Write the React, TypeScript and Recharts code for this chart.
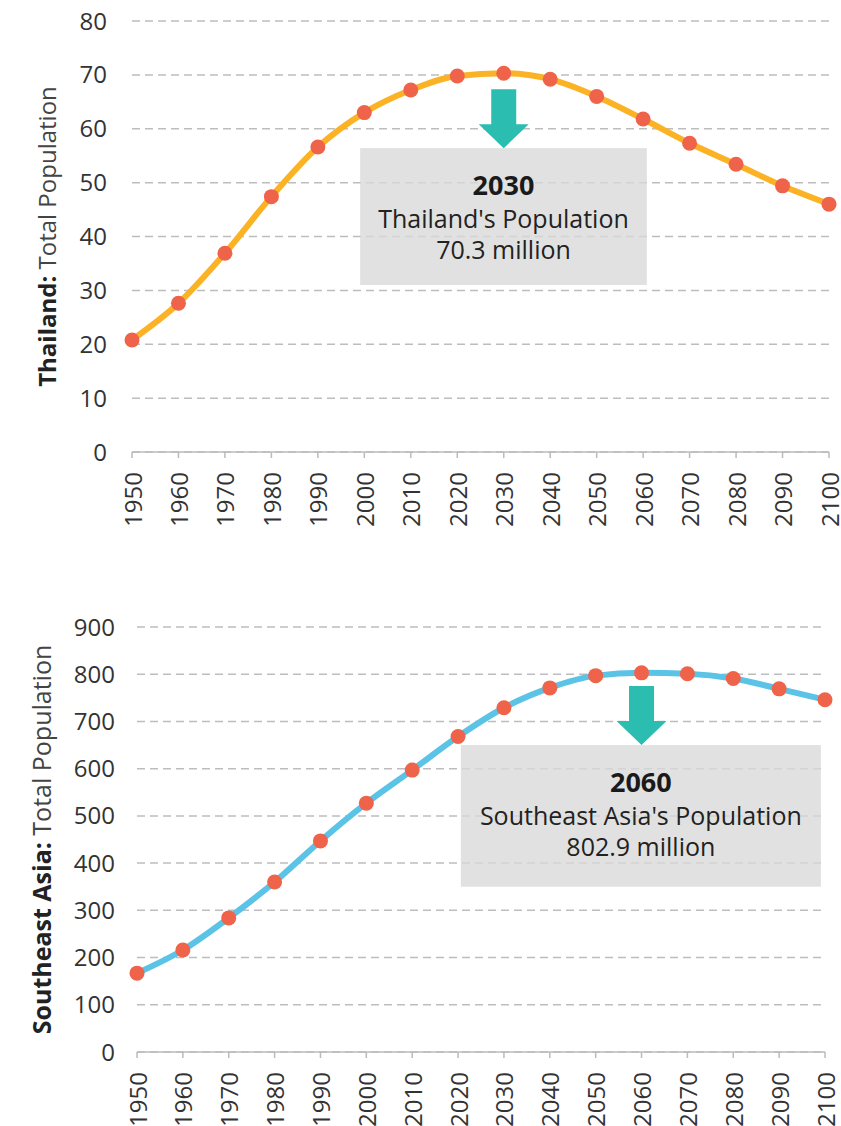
import React from 'react';
import { LineChart, Line, XAxis, YAxis, CartesianGrid, ReferenceArea, ReferenceDot } from 'recharts';

const years = [1950, 1960, 1970, 1980, 1990, 2000, 2010, 2020, 2030, 2040, 2050, 2060, 2070, 2080, 2090, 2100];
const thailand = [20.8, 27.6, 36.9, 47.4, 56.6, 63.0, 67.2, 69.8, 70.3, 69.2, 66.0, 61.8, 57.3, 53.4, 49.4, 46.0];
const seAsia = [167, 216, 284, 360, 447, 527, 597, 668, 729, 771, 797, 802.9, 801, 791, 769, 746];
const thaiTicks = [0, 10, 20, 30, 40, 50, 60, 70, 80];
const seaTicks = [0, 100, 200, 300, 400, 500, 600, 700, 800, 900];

const thaiData = years.map((y, i) => ({ year: y, value: thailand[i] }));
const seaData = years.map((y, i) => ({ year: y, value: seAsia[i] }));

const FONT = "'Open Sans', sans-serif";
const TEAL = '#2bbdb0';
const DOT = '#ef634a';

const XTick = (props: any) => {
  const { x, y, payload } = props;
  const ty = y + 12;
  return (
    <text
      x={x}
      y={ty}
      transform={`rotate(-90 ${x} ${ty})`}
      textAnchor="end"
      dominantBaseline="central"
      fontFamily={FONT}
      fontSize={24}
      fill="#333"
    >
      {payload.value}
    </text>
  );
};

const makeTitle = (bold: string, rest: string, cx: number, size: number) => (props: any) => {
  const vb = props.viewBox;
  const cy = vb.y + vb.height / 2;
  return (
    <text
      x={cx}
      y={cy}
      transform={`rotate(-90 ${cx} ${cy})`}
      textAnchor="middle"
      dominantBaseline="central"
      fontFamily={FONT}
      fontSize={size}
      fill="#222"
    >
      <tspan fontWeight="bold">{bold}</tspan>
      <tspan fill="#444">{rest}</tspan>
    </text>
  );
};

const Arrow = (props: any) => {
  const { cx, cy } = props;
  const pts = [
    [cx - 12.5, cy - 59],
    [cx + 12.5, cy - 59],
    [cx + 12.5, cy - 24],
    [cx + 25, cy - 24],
    [cx, cy],
    [cx - 25, cy - 24],
    [cx - 12.5, cy - 24],
  ]
    .map((p) => p.join(','))
    .join(' ');
  return <polygon points={pts} fill={TEAL} />;
};

const makeBox = (l1: string, l2: string, l3: string) => (props: any) => {
  const { x, y, width, height } = props;
  const mx = x + width / 2;
  return (
    <g>
      <rect x={x} y={y} width={width} height={height} fill="#d8d8d8" fillOpacity={0.78} />
      <text x={mx} y={y + 47} textAnchor="middle" fontFamily={FONT} fontSize={27} fontWeight="bold" fill="#1a1a1a">
        {l1}
      </text>
      <text x={mx} y={y + 80} textAnchor="middle" fontFamily={FONT} fontSize={25} fill="#222">
        {l2}
      </text>
      <text x={mx} y={y + 111} textAnchor="middle" fontFamily={FONT} fontSize={25} fill="#222">
        {l3}
      </text>
    </g>
  );
};

export default function App() {
  return (
    <div style={{ position: 'absolute', left: 0, top: 0, width: 841, height: 1126, background: '#fff', fontFamily: FONT }}>
      <div style={{ position: 'absolute', left: 0, top: 0 }}>
        <LineChart width={841} height={560} data={thaiData} margin={{ top: 21, right: 12, bottom: 0, left: 0 }}>
          <CartesianGrid vertical={false} strokeDasharray="8 5" stroke="#bdbdbd" strokeWidth={1.5} />
          <XAxis
            dataKey="year"
            type="number"
            domain={[1950, 2100]}
            ticks={years}
            interval={0}
            height={108}
            axisLine={{ stroke: '#bbb', strokeWidth: 1.5 }}
            tickLine={{ stroke: '#bbb', strokeWidth: 1.5 }}
            tickSize={6}
            tick={<XTick />}
          />
          <YAxis
            type="number"
            domain={[0, 80]}
            ticks={thaiTicks}
            interval={0}
            width={132}
            axisLine={false}
            tickLine={false}
            tickSize={0}
            tickMargin={25}
            tick={{ fontFamily: FONT, fontSize: 24, fill: '#333' }}
            label={{ content: makeTitle('Thailand:', ' Total Population', 46, 24) }}
          />
          <ReferenceArea x1={1999.1} x2={2060.8} y1={31} y2={56.4} shape={makeBox('2030', "Thailand's Population", '70.3 million')} />
          <ReferenceDot x={2030} y={56.4} shape={<Arrow />} />
          <Line
            type="monotone"
            dataKey="value"
            stroke="#fbb325"
            strokeWidth={6}
            dot={{ r: 7.5, fill: DOT, stroke: 'none' }}
            activeDot={false}
            isAnimationActive={false}
          />
        </LineChart>
      </div>
      <div style={{ position: 'absolute', left: 0, top: 560 }}>
        <LineChart width={841} height={566} data={seaData} margin={{ top: 67, right: 16, bottom: 0, left: 0 }}>
          <CartesianGrid vertical={false} strokeDasharray="8 5" stroke="#bdbdbd" strokeWidth={1.5} />
          <XAxis
            dataKey="year"
            type="number"
            domain={[1950, 2100]}
            ticks={years}
            interval={0}
            height={74}
            axisLine={{ stroke: '#bbb', strokeWidth: 1.5 }}
            tickLine={{ stroke: '#bbb', strokeWidth: 1.5 }}
            tickSize={6}
            tick={<XTick />}
          />
          <YAxis
            type="number"
            domain={[0, 900]}
            ticks={seaTicks}
            interval={0}
            width={137}
            axisLine={false}
            tickLine={false}
            tickSize={0}
            tickMargin={22}
            tick={{ fontFamily: FONT, fontSize: 24, fill: '#333' }}
            label={{ content: makeTitle('Southeast Asia:', ' Total Population', 41, 25) }}
          />
          <ReferenceArea x1={2020.6} x2={2099.1} y1={350} y2={650} shape={makeBox('2060', "Southeast Asia's Population", '802.9 million')} />
          <ReferenceDot x={2060} y={650} shape={<Arrow />} />
          <Line
            type="monotone"
            dataKey="value"
            stroke="#5bc3e6"
            strokeWidth={6}
            dot={{ r: 7.5, fill: DOT, stroke: 'none' }}
            activeDot={false}
            isAnimationActive={false}
          />
        </LineChart>
      </div>
    </div>
  );
}
